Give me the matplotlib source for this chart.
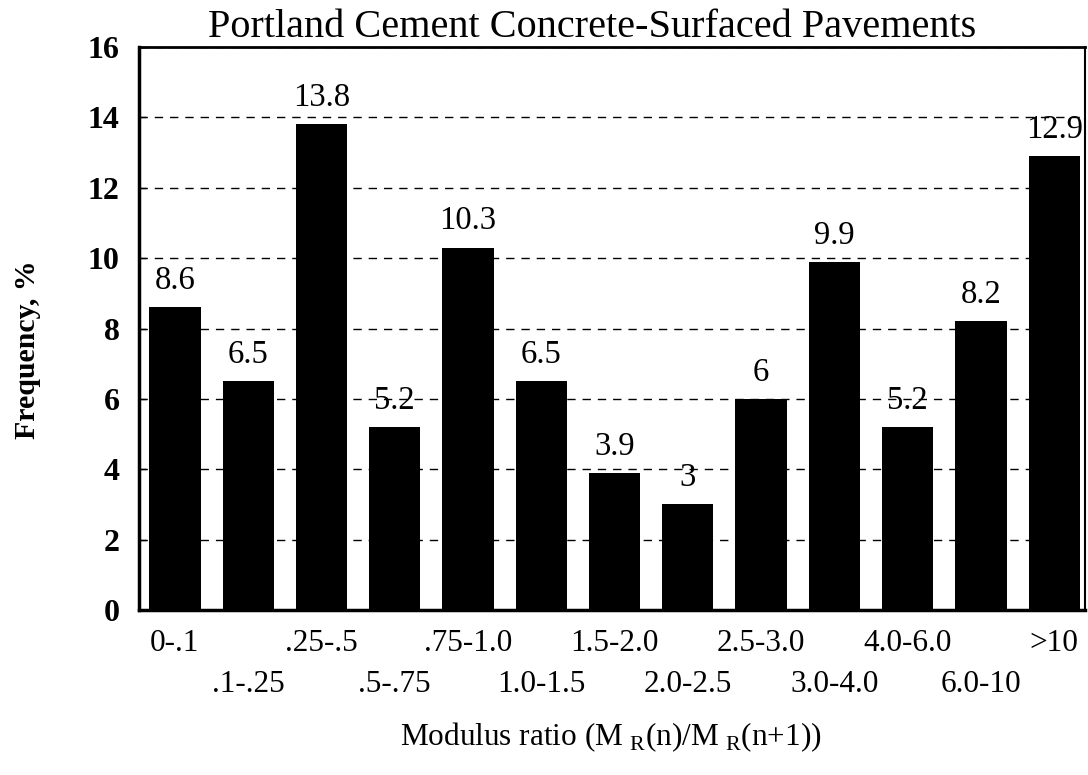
import numpy as np
import matplotlib.pyplot as plt

plt.rcParams['font.family'] = ['Liberation Serif', 'DejaVu Serif']
plt.rcParams['mathtext.fontset'] = 'custom'
plt.rcParams['mathtext.rm'] = 'Liberation Serif'

# data
categories = ['0-.1', '.1-.25', '.25-.5', '.5-.75', '.75-1.0', '1.0-1.5', '1.5-2.0',
              '2.0-2.5', '2.5-3.0', '3.0-4.0', '4.0-6.0', '6.0-10', '>10']
values = [8.6, 6.5, 13.8, 5.2, 10.3, 6.5, 3.9, 3, 6, 9.9, 5.2, 8.2, 12.9]
bar_labels = ['8.6', '6.5', '13.8', '5.2', '10.3', '6.5', '3.9', '3', '6', '9.9', '5.2', '8.2', '12.9']
yticks = [0, 2, 4, 6, 8, 10, 12, 14, 16]

W, H = 1088, 775
fig = plt.figure(figsize=(W / 100, H / 100), dpi=100)
ax = fig.add_axes([139 / W, 1 - 610 / H, (1085 - 139) / W, (610 - 47) / H])

x = np.arange(len(categories))
ax.bar(x, values, width=0.7, color='black', zorder=2)

# value labels above bars
for xi, v, lab in zip(x, values, bar_labels):
    ax.annotate(lab, (xi, v), xytext=(0, 8), textcoords='offset points',
                ha='center', va='bottom', fontsize=23.5)

ax.set_xlim(-0.49, 12.42)
ax.set_ylim(0, 16)
ax.set_yticks(yticks)
ax.set_yticklabels([str(t) for t in yticks], fontsize=23, fontweight='bold')
ax.tick_params(axis='y', direction='in', length=5, width=1, pad=14)

# two-row category labels: even on major ticks, odd on minor ticks
ax.set_xticks(x[::2])
ax.set_xticklabels(categories[::2], fontsize=22.5)
ax.set_xticks(x[1::2], minor=True)
ax.set_xticklabels(categories[1::2], minor=True, fontsize=22.5)
ax.tick_params(axis='x', which='major', length=0, pad=14)
ax.tick_params(axis='x', which='minor', length=0, pad=43)

ax.grid(axis='y', linestyle=(0, (6, 5)), color='black', linewidth=1, zorder=1)
ax.set_axisbelow(True)

for side in ['left', 'bottom']:
    ax.spines[side].set_linewidth(2.5)
ax.spines['top'].set_linewidth(2)
ax.spines['right'].set_linewidth(1.5)

fig.text(592 / W, 1 - 37 / H, 'Portland Cement Concrete-Surfaced Pavements',
         ha='center', va='baseline', fontsize=29)
fig.text(28 / W, 1 - 350 / H, 'Frequency, %', rotation=90, ha='center', va='center',
         fontsize=21.5, fontweight='bold')
fig.text(611 / W, 1 - 745 / H, r'Modulus ratio (M$_{\rm\ R}$(n)/M$_{\rm\ R}$(n+1))',
         ha='center', va='baseline', fontsize=22.5)

fig.savefig('out.png', dpi=100)
